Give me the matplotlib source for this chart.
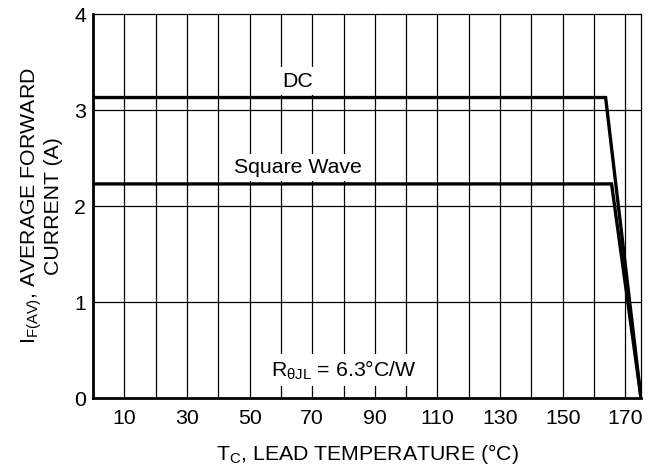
"""Curba de derating: curent mediu direct vs. temperatura terminalului."""

import matplotlib
matplotlib.use("Agg")
import matplotlib.pyplot as plt

# Date
temp_dc = [0, 163.7, 175]
curent_dc = [3.13, 3.13, 0]
temp_sq = [0, 165.6, 175]
curent_sq = [2.23, 2.23, 0]
x_ticks = [10, 30, 50, 70, 90, 110, 130, 150, 170]
y_ticks = [0, 1, 2, 3, 4]

plt.rcParams['font.family'] = ['Liberation Sans', 'DejaVu Sans']
plt.rcParams['mathtext.fontset'] = 'custom'
plt.rcParams['mathtext.rm'] = 'Liberation Sans'
plt.rcParams['mathtext.it'] = 'Liberation Sans'
plt.rcParams['mathtext.bf'] = 'Liberation Sans'

fig = plt.figure(figsize=(6.6, 4.69), dpi=100)
ax = fig.add_axes([93 / 660, 1 - 398 / 469, (641 - 93) / 660, (398 - 14) / 469])

# grila: verticale la fiecare 10 grade, orizontale la fiecare amper
for xv in range(10, 171, 10):
    ax.axvline(xv, color='black', linewidth=0.9, zorder=1)
for yv in [1, 2, 3]:
    ax.axhline(yv, color='black', linewidth=0.9, zorder=1)

ax.plot(temp_dc, curent_dc, color='black', linewidth=2.4, zorder=3, solid_joinstyle='miter')
ax.plot(temp_sq, curent_sq, color='black', linewidth=2.4, zorder=3, solid_joinstyle='miter')

fs = 15.3
box = dict(facecolor='white', edgecolor='none', pad=3)
ax.text(65.5, 3.30, 'DC', ha='center', va='center', fontsize=fs, bbox=box, zorder=2)
ax.text(65.5, 2.40, 'Square Wave', ha='center', va='center', fontsize=fs, bbox=box, zorder=2)
ax.text(80.2, 0.29, r'R$_{θJL}$ = 6.3°C/W', ha='center', va='center', fontsize=fs,
        bbox=box, zorder=2)

ax.set_xlim(0, 175)
ax.set_ylim(0, 4)
ax.set_xticks(x_ticks)
ax.set_yticks(y_ticks)
ax.tick_params(length=0, labelsize=fs)
ax.tick_params(axis='x', pad=8)
ax.tick_params(axis='y', pad=5)

for s in ['top', 'right']:
    ax.spines[s].set_linewidth(0.9)
for s in ['left', 'bottom']:
    ax.spines[s].set_linewidth(2.0)

ax.set_xlabel('T$_C$, LEAD TEMPERATURE (°C)', fontsize=fs, labelpad=10)
ax.set_ylabel('I$_{F(AV)}$, AVERAGE FORWARD\nCURRENT (A)', fontsize=fs, labelpad=8,
              linespacing=1.0)

fig.savefig('out.png', dpi=100)
plt.close(fig)
